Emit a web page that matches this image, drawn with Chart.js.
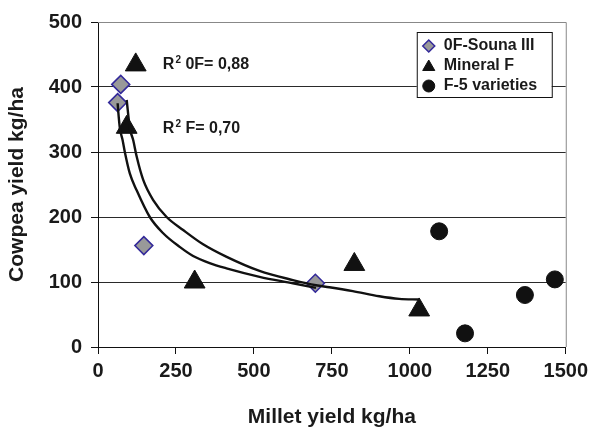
<!DOCTYPE html>
<html>
<head>
<meta charset="utf-8">
<script src="https://cdn.jsdelivr.net/npm/chart.js@4.4.1/dist/chart.umd.min.js"></script>
<style>
  body { margin: 0; background: #fff; }
</style>
</head>
<body>
<canvas id="myChart" width="593" height="428"></canvas>
<script>
// measured points
const millet0F = [73, 63, 147, 697];
const cowpea0F = [404, 376, 156, 98];
const milletMinF = [121, 92, 310, 822, 1030];
const cowpeaMinF = [434, 338, 100, 127, 57];
const milletVar = [1094, 1177, 1369, 1465];
const cowpeaVar = [178, 21, 80, 104];

// trend curves
const curve0FX = [63, 65, 70, 79, 86, 102, 124, 166, 209, 262, 305, 358, 412, 518, 625, 699];
const curve0FY = [375, 362, 337, 318, 300, 267, 241, 200, 175, 154, 140, 129, 121, 108, 98, 91];
const curveFX = [92, 102, 113, 124, 145, 177, 220, 273, 337, 411, 518, 625, 699, 742, 817, 902, 966, 1030];
const curveFY = [380, 337, 318, 293, 257, 226, 200, 180, 158, 139, 117, 103, 95, 92, 86, 78, 74, 73];

const seriesNames = ["0F-Souna III", "Mineral F", "F-5 varieties"];
const xTicks = [0, 250, 500, 750, 1000, 1250, 1500];
const yTicks = [0, 100, 200, 300, 400, 500];

const r2Labels = [
  { name: "0F", value: "0,88", x: 208, y: 428 },
  { name: "F", value: "0,70", x: 208, y: 329 }
];

const pts = (xs, ys) => xs.map((x, i) => ({ x: x, y: ys[i] }));
const FONT = "'Liberation Sans', Arial, sans-serif";
const TXT = "#1a1a1a";

const legendPlugin = {
  id: "boxLegend",
  afterDraw(chart) {
    const ctx = chart.ctx;
    const a = chart.chartArea;
    const left = a.right - 149, top = a.top + 10, w = 135, h = 65;
    ctx.save();
    ctx.fillStyle = "#fff";
    ctx.fillRect(left, top, w, h);
    ctx.strokeStyle = "#111";
    ctx.lineWidth = 1;
    ctx.strokeRect(left + 0.5, top + 0.5, w, h);
    ctx.font = "bold 16px " + FONT;
    ctx.textBaseline = "middle";
    const legendSets = chart.data.datasets.filter(d => d.inLegend);
    legendSets.forEach((d, i) => {
      const cy = top + 14 + i * 20;
      ctx.fillStyle = d.pointBackgroundColor;
      ctx.strokeStyle = d.pointBorderColor;
      ctx.lineWidth = d.pointBorderWidth;
      Chart.helpers.drawPoint(ctx, {
        pointStyle: d.pointStyle,
        radius: d.pointStyle === "triangle" ? 7 : 6,
        borderWidth: d.pointBorderWidth
      }, left + 12, cy + (d.pointStyle === "triangle" ? 1 : 0));
      ctx.fillStyle = TXT;
      ctx.fillText(d.label, left + 27, cy);
    });
    ctx.restore();
  }
};

const frameAndTextPlugin = {
  id: "frameText",
  beforeDatasetsDraw(chart) {
    const ctx = chart.ctx;
    const a = chart.chartArea;
    ctx.save();
    ctx.strokeStyle = "#888";
    ctx.lineWidth = 1;
    ctx.beginPath();
    ctx.moveTo(a.left, a.top + 0.5);
    ctx.lineTo(a.right + 0.5, a.top + 0.5);
    ctx.lineTo(a.right + 0.5, a.bottom);
    ctx.stroke();
    ctx.restore();
  },
  afterDatasetsDraw(chart) {
    const ctx = chart.ctx;
    const xs = chart.scales.x, ys = chart.scales.y;
    ctx.save();
    ctx.fillStyle = TXT;
    ctx.textBaseline = "alphabetic";
    r2Labels.forEach(l => {
      let px = xs.getPixelForValue(l.x);
      const py = ys.getPixelForValue(l.y);
      ctx.font = "bold 16px " + FONT;
      ctx.fillText("R", px, py);
      px += ctx.measureText("R").width + 1;
      ctx.font = "bold 10px " + FONT;
      ctx.fillText("2", px, py - 6);
      px += ctx.measureText("2").width;
      ctx.font = "bold 16px " + FONT;
      ctx.fillText(" " + l.name + "= " + l.value, px, py);
    });
    ctx.restore();
  }
};

const curveStyle = {
  showLine: true,
  borderColor: "#111",
  borderWidth: 2.4,
  pointRadius: 0,
  pointHoverRadius: 0,
  cubicInterpolationMode: "monotone",
  order: 0
};

const ctx = document.getElementById("myChart").getContext("2d");
const chart = new Chart(ctx, {
  type: "scatter",
  data: {
    datasets: [
      Object.assign({ label: "fit F", data: pts(curveFX, curveFY) }, curveStyle),
      Object.assign({ label: "fit 0F", data: pts(curve0FX, curve0FY) }, curveStyle),
      {
        label: seriesNames[0],
        inLegend: true,
        data: pts(millet0F, cowpea0F),
        pointStyle: "rectRot",
        pointRadius: 9,
        pointHoverRadius: 9,
        pointBackgroundColor: "#999999",
        pointBorderColor: "#33299a",
        pointBorderWidth: 1.5,
        order: 1
      },
      {
        label: seriesNames[1],
        inLegend: true,
        data: pts(milletMinF, cowpeaMinF),
        pointStyle: "triangle",
        pointRadius: 12,
        pointHoverRadius: 12,
        pointBackgroundColor: "#111",
        pointBorderColor: "#111",
        pointBorderWidth: 1,
        order: 1
      },
      {
        label: seriesNames[2],
        inLegend: true,
        data: pts(milletVar, cowpeaVar),
        pointStyle: "circle",
        pointRadius: 8.5,
        pointHoverRadius: 8.5,
        pointBackgroundColor: "#111",
        pointBorderColor: "#111",
        pointBorderWidth: 1,
        order: 1
      }
    ]
  },
  options: {
    responsive: false,
    animation: false,
    layout: { padding: { left: 0, right: 26, top: 22, bottom: 0 } },
    plugins: {
      legend: { display: false },
      tooltip: { enabled: false }
    },
    scales: {
      x: {
        type: "linear",
        min: 0,
        max: 1500,
        afterBuildTicks: s => { s.ticks = xTicks.map(v => ({ value: v })); },
        afterFit: s => { s.height = 81; },
        grid: {
          drawOnChartArea: false,
          drawTicks: true,
          tickLength: 7,
          tickColor: "#111"
        },
        border: { color: "#111", width: 1 },
        ticks: {
          padding: 5,
          color: TXT,
          callback: v => String(v),
          font: { family: FONT, size: 20, weight: "bold" }
        },
        title: {
          display: true,
          text: "Millet yield kg/ha",
          color: TXT,
          font: { family: FONT, size: 21, weight: "bold", lineHeight: 1 },
          padding: { top: 0, bottom: 0 }
        }
      },
      y: {
        type: "linear",
        min: 0,
        max: 500,
        afterBuildTicks: s => { s.ticks = yTicks.map(v => ({ value: v })); },
        afterFit: s => { s.width = 98; },
        grid: {
          color: c => (c.tick && c.tick.value === 500 ? "#888" : "#2a2a2a"),
          lineWidth: 1,
          drawTicks: true,
          tickLength: 7,
          tickColor: "#111"
        },
        border: { color: "#111", width: 1 },
        ticks: {
          padding: 9,
          color: TXT,
          callback: v => String(v),
          font: { family: FONT, size: 20, weight: "bold" }
        },
        title: {
          display: true,
          text: "Cowpea yield kg/ha",
          color: TXT,
          font: { family: FONT, size: 21, weight: "bold", lineHeight: 1 },
          padding: { top: 7, bottom: 0 }
        }
      }
    }
  },
  plugins: [frameAndTextPlugin, legendPlugin]
});
</script>
</body>
</html>
